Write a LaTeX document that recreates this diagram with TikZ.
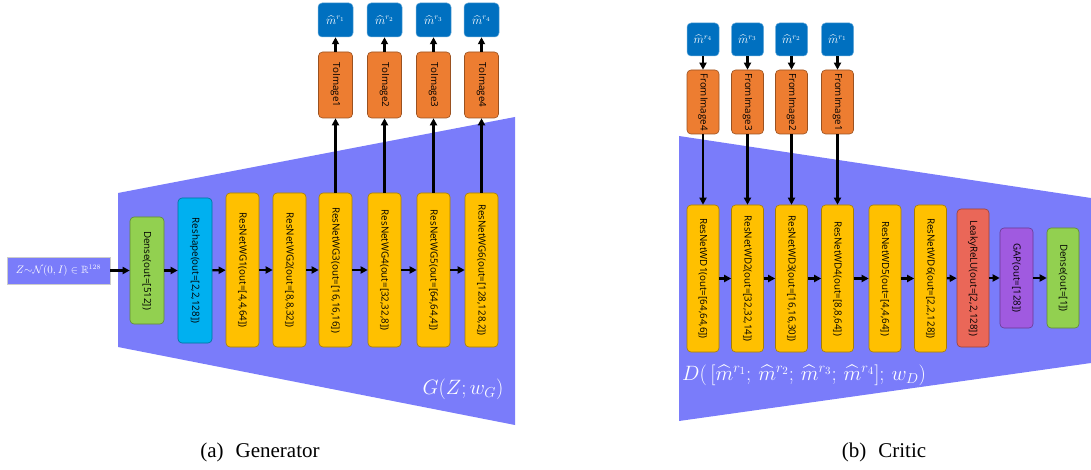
\documentclass[tikz,border=0pt]{standalone}
\usepackage{amsmath,amssymb}
\usepackage{fontspec}
\newfontfamily\boxfont{Open Sans}
\newfontfamily\capfont{Liberation Serif}
\usetikzlibrary{arrows.meta}
\definecolor{trap}{RGB}{122,124,250}
\definecolor{cgreen}{RGB}{146,208,80}
\definecolor{ccyan}{RGB}{0,176,240}
\definecolor{cyellow}{RGB}{255,192,0}
\definecolor{corange}{RGB}{237,125,49}
\definecolor{cdblue}{RGB}{0,112,192}
\definecolor{cred}{RGB}{234,103,88}
\definecolor{cpurple}{RGB}{160,90,224}
\newcommand{\rt}[1]{\rotatebox{-90}{\boxfont\fontsize{9.8}{11}\selectfont #1}}
\tikzset{
  blk/.style={draw=#1!65!black, fill=#1, line width=0.6pt, rounded corners=4pt, inner sep=0pt},
  arr/.style={-{Triangle[length=7pt,width=7pt]}, line width=2.2pt, black},
  mbox/.style={draw=cdblue!60!white, fill=cdblue, line width=0.5pt, rounded corners=4pt, inner sep=0pt, text=white, font=\fontsize{12}{14}\selectfont},
}
\begin{document}
\begin{tikzpicture}[x=1pt,y=-1pt]
\useasboundingbox (0,0) rectangle (1091,470);
% trapezoids
\fill[trap] (118,193) -- (515,117) -- (515,425) -- (118,347) -- cycle;
\fill[trap] (679,136) -- (1091,198) -- (1091,363) -- (679,421) -- cycle;
% ---------- generator ----------
\node[draw=gray!40, fill=trap, line width=0.5pt, minimum width=103pt, minimum height=27pt, inner sep=0pt, text=white, font=\fontsize{10.5}{12}\selectfont] (zin) at (58.5,270.5) {$Z{\sim}\mathcal{N}(0,I)\in\mathbb{R}^{128}$};
\node[blk=cgreen, minimum width=34pt, minimum height=107pt] (gd) at (147,270.5) {\rt{Dense(out=[512])}};
\node[blk=ccyan, minimum width=34pt, minimum height=145pt] (gr) at (195,270.5) {\rt{Reshape(out=[2,2,128])}};
\node[blk=cyellow, minimum width=33pt, minimum height=154pt] (g1) at (242.5,270) {\rt{ResNetWG1(out=[4,4,64])}};
\node[blk=cyellow, minimum width=33pt, minimum height=154pt] (g2) at (289.5,270) {\rt{ResNetWG2(out=[8,8,32])}};
\node[blk=cyellow, minimum width=33pt, minimum height=154pt] (g3) at (335.5,270) {\rt{ResNetWG3(out=[16,16,16])}};
\node[blk=cyellow, minimum width=33pt, minimum height=154pt] (g4) at (384.5,270) {\rt{ResNetWG4(out=[32,32,8])}};
\node[blk=cyellow, minimum width=33pt, minimum height=154pt] (g5) at (433.5,270) {\rt{ResNetWG5(out=[64,64,4])}};
\node[blk=cyellow, minimum width=33pt, minimum height=154pt] (g6) at (481.5,270) {\rt{ResNetWG6(out=[128,128,2])}};
\foreach \i/\x in {1/335.5,2/384.5,3/433.5,4/481.5}{
  \node[blk=corange, minimum width=34pt, minimum height=66pt] (ti\i) at (\x,85) {\rt{ToImage\i}};
  \node[mbox, minimum width=35pt, minimum height=34pt] (gm\i) at (\x,20) {$\widehat{m}^{r_\i}$};
}
\draw[arr] (zin) -- (gd);
\draw[arr] (gd) -- (gr);
\draw[arr] (gr) -- (g1);
\draw[arr] (g1) -- (g2);
\draw[arr] (g2) -- (g3);
\draw[arr] (g3) -- (g4);
\draw[arr] (g4) -- (g5);
\draw[arr] (g5) -- (g6);
\draw[arr] (g3) -- (ti1); \draw[arr] (ti1) -- (gm1);
\draw[arr] (g4) -- (ti2); \draw[arr] (ti2) -- (gm2);
\draw[arr] (g5) -- (ti3); \draw[arr] (ti3) -- (gm3);
\draw[arr] (g6) -- (ti4); \draw[arr] (ti4) -- (gm4);
\node[text=white, font=\fontsize{21}{24}\selectfont, anchor=center] (glab) at (463,389) {$G(Z;w_G)$};
% ---------- critic ----------
\foreach \i/\r/\x in {1/4/703,2/3/747.5,3/2/791.5,4/1/837.5}{
  \node[mbox, minimum width=32pt, minimum height=33pt] (dm\i) at (\x,39.5) {$\widehat{m}^{r_\r}$};
  \node[blk=corange, minimum width=32pt, minimum height=64pt] (fi\i) at (\x,102) {\rt{FromImage\r}};
  \draw[arr] (dm\i) -- (fi\i);
}
\node[blk=cyellow, minimum width=32pt, minimum height=147pt] (d1) at (703,278.5) {\rt{ResNetWD1(out=[64,64,6])}};
\node[blk=cyellow, minimum width=32pt, minimum height=147pt] (d2) at (747.5,278.5) {\rt{ResNetWD2(out=[32,32,14])}};
\node[blk=cyellow, minimum width=32pt, minimum height=147pt] (d3) at (791.5,278.5) {\rt{ResNetWD3(out=[16,16,30])}};
\node[blk=cyellow, minimum width=32pt, minimum height=147pt] (d4) at (837.5,278.5) {\rt{ResNetWD4(out=[8,8,64])}};
\node[blk=cyellow, minimum width=32pt, minimum height=147pt] (d5) at (885,278.5) {\rt{ResNetWD5(out=[4,4,64])}};
\node[blk=cyellow, minimum width=32pt, minimum height=147pt] (d6) at (930.5,278.5) {\rt{ResNetWD6(out=[2,2,128])}};
\node[blk=cred, minimum width=32pt, minimum height=138pt] (dl) at (973,278) {\rt{LeakyReLU(out=[2,2,128])}};
\node[blk=cpurple, minimum width=33pt, minimum height=100pt] (dg) at (1016.5,278) {\rt{GAP(out=[128])}};
\node[blk=cgreen, minimum width=32pt, minimum height=100pt] (dd) at (1063,278) {\rt{Dense(out=[1])}};
\draw[arr] (fi1) -- (d1);
\draw[arr] (fi2) -- (d2);
\draw[arr] (fi3) -- (d3);
\draw[arr] (fi4) -- (d4);
\draw[arr] (d1) -- (d2);
\draw[arr] (d2) -- (d3);
\draw[arr] (d3) -- (d4);
\draw[arr] (d4) -- (d5);
\draw[arr] (d5) -- (d6);
\draw[arr] (d6) -- (dl);
\draw[arr] (dl) -- (dg);
\draw[arr] (dg) -- (dd);
\node[text=white, font=\fontsize{21.5}{26}\selectfont, anchor=west, inner sep=0pt] (dlab) at (682,375) {$D(\,[\widehat{m}^{r_1};\,\widehat{m}^{r_2};\,\widehat{m}^{r_3};\,\widehat{m}^{r_4}];\,w_D)$};
% captions
\node[font=\capfont\fontsize{21}{24}\selectfont] (capa) at (260,452) {(a)\hspace{12pt}Generator};
\node[font=\capfont\fontsize{21}{24}\selectfont] (capb) at (884,452) {(b)\hspace{12pt}Critic};
\end{tikzpicture}
\end{document}
